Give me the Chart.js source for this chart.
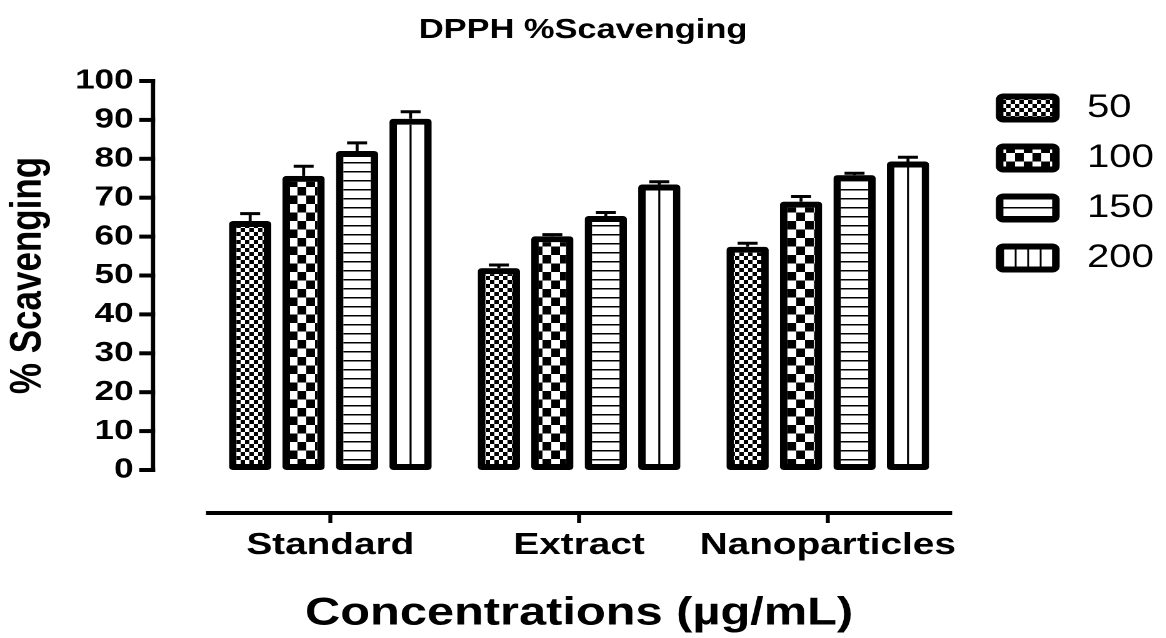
<!DOCTYPE html>
<html>
<head>
<meta charset="utf-8">
<title>DPPH %Scavenging</title>
<script src="https://cdn.jsdelivr.net/npm/chart.js@4.4.1/dist/chart.umd.min.js"></script>
<style>
  html, body { margin: 0; padding: 0; background: #fff; overflow: hidden; }
  /* the original figure is stretched sideways, so the whole canvas is too */
  #wrap { width: 933px; height: 638px; transform: scaleX(1.25); transform-origin: 0 0; }
</style>
</head>
<body>
<div id="wrap"><canvas id="chart" width="933" height="638"></canvas></div>
<script>
const groups = ["Standard", "Extract", "Nanoparticles"];
const concentrations = ["50", "100", "150", "200"];

// mean % scavenging per group, one array per concentration
const values50 = [64.0, 51.9, 57.4];
const values100 = [75.6, 60.1, 69.0];
const values150 = [82.0, 65.3, 75.8];
const values200 = [90.3, 73.4, 79.3];

// error bar (SD) per group
const errors50 = [1.9, 0.8, 0.9];
const errors100 = [2.5, 0.4, 1.3];
const errors150 = [2.1, 0.9, 0.5];
const errors200 = [1.8, 0.7, 1.1];

const yTicks = [0, 10, 20, 30, 40, 50, 60, 70, 80, 90, 100];

const seriesValues = [values50, values100, values150, values200];
const seriesErrors = [errors50, errors100, errors150, errors200];

// pattern tiles are drawn at 2x and scaled back down
function makePattern(w, h, drawTile, dx) {
  const c = document.createElement("canvas");
  c.width = w;
  c.height = h;
  const g = c.getContext("2d");
  g.fillStyle = "#fff";
  g.fillRect(0, 0, w, h);
  g.fillStyle = "#000";
  drawTile(g, w, h);
  const p = g.createPattern(c, "repeat");
  p.setTransform(new DOMMatrix([0.5, 0, 0, 0.5, dx || 0, 0]));
  return p;
}

const fineChecker = makePattern(14, 16, g => {
  g.fillRect(0, 0, 7, 8);
  g.fillRect(7, 8, 7, 8);
});
const bigChecker = makePattern(28, 34, g => {
  g.fillRect(0, 0, 14, 17);
  g.fillRect(14, 17, 14, 17);
});
const hStripes = makePattern(4, 18, g => {
  g.fillRect(0, 0, 4, 3);
});
// legend swatch for 200: four cells
const vStripes = makePattern(20, 4, g => {
  g.fillRect(0, 0, 3, 4);
}, 1.75);
const fills = [fineChecker, bigChecker, hStripes, "#fff"];

const datasets = concentrations.map((c, i) => ({
  label: " " + c,
  data: seriesValues[i],
  backgroundColor: fills[i],
  borderColor: "#000",
  borderWidth: 6,
  borderSkipped: false,
  borderRadius: 3,
  categoryPercentage: 0.86,
  barPercentage: 0.79
}));

// error bars, plus the single centre line of the 200 bars
const errorBars = {
  id: "errorBars",
  afterDatasetsDraw(chart) {
    const ctx = chart.ctx;
    const y = chart.scales.y;
    ctx.save();
    ctx.strokeStyle = "#000";
    chart.data.datasets.forEach((ds, di) => {
      const meta = chart.getDatasetMeta(di);
      meta.data.forEach((bar, i) => {
        const top = y.getPixelForValue(ds.data[i] + seriesErrors[di][i]);
        ctx.lineWidth = 2.4;
        ctx.beginPath();
        ctx.moveTo(bar.x, bar.y);
        ctx.lineTo(bar.x, top);
        ctx.stroke();
        ctx.lineWidth = 3;
        ctx.beginPath();
        ctx.moveTo(bar.x - 8, top);
        ctx.lineTo(bar.x + 8, top);
        ctx.stroke();
        if (di === 3) {
          ctx.lineWidth = 1.6;
          ctx.beginPath();
          ctx.moveTo(bar.x, bar.y + 6);
          ctx.lineTo(bar.x, bar.base - 6);
          ctx.stroke();
        }
      });
    });
    ctx.restore();
  }
};

// detached axes like the Prism original
const axisLines = {
  id: "axisLines",
  afterDraw(chart) {
    const { ctx, chartArea, scales } = chart;
    const x = scales.x, y = scales.y;
    const axisX = chartArea.left - 42.4;
    const axisY = chartArea.bottom + 43;
    ctx.save();
    ctx.strokeStyle = "#000";
    ctx.lineWidth = 3.4;
    ctx.beginPath();
    ctx.moveTo(axisX, y.getPixelForValue(100) - 2);
    ctx.lineTo(axisX, y.getPixelForValue(0) + 2);
    ctx.stroke();
    ctx.lineWidth = 4;
    yTicks.forEach(v => {
      const py = y.getPixelForValue(v);
      ctx.beginPath();
      ctx.moveTo(axisX - 11, py);
      ctx.lineTo(axisX + 1.7, py);
      ctx.stroke();
    });
    ctx.beginPath();
    ctx.moveTo(chartArea.left, axisY);
    ctx.lineTo(chartArea.right, axisY);
    ctx.stroke();
    ctx.lineWidth = 3.2;
    groups.forEach((g, i) => {
      const px = x.getPixelForValue(i);
      ctx.beginPath();
      ctx.moveTo(px, axisY);
      ctx.lineTo(px, axisY + 10);
      ctx.stroke();
    });
    ctx.restore();
  }
};

Chart.defaults.font.family = "'Liberation Sans', Arial, sans-serif";
Chart.defaults.color = "#000";

new Chart(document.getElementById("chart"), {
  type: "bar",
  data: { labels: groups, datasets: datasets },
  plugins: [errorBars, axisLines],
  options: {
    responsive: false,
    animation: false,
    devicePixelRatio: 2,
    layout: { padding: 0 },
    plugins: {
      title: {
        display: true,
        text: "DPPH %Scavenging",
        font: { size: 27.5, weight: "bold" },
        padding: { top: 14, bottom: 34 }
      },
      legend: {
        position: "right",
        align: "start",
        // empty title only pushes the entries down
        title: { display: true, text: " ", font: { size: 10 }, padding: { top: 62, bottom: 0 } },
        labels: {
          boxWidth: 45,
          boxHeight: 23,
          padding: 18,
          font: { size: 32 },
          useBorderRadius: true,
          borderRadius: 3,
          generateLabels(chart) {
            const items = Chart.defaults.plugins.legend.labels.generateLabels(chart);
            items[3].fillStyle = vStripes;
            return items;
          }
        }
      },
      tooltip: { enabled: false }
    },
    scales: {
      x: {
        afterFit: s => { s.height = 168; },
        grid: { display: false, drawTicks: false },
        border: { display: false },
        ticks: { padding: 57, autoSkip: false, maxRotation: 0, font: { size: 31, weight: "bold" } },
        title: {
          display: true,
          text: "Concentrations (µg/mL)",
          font: { size: 39, weight: "bold" },
          padding: { top: 0, bottom: 1 }
        }
      },
      y: {
        min: 0,
        max: 100,
        afterFit: s => { s.width = 164.8; },
        afterBuildTicks: s => { s.ticks = yTicks.map(v => ({ value: v })); },
        grid: { display: false, drawTicks: false },
        border: { display: false },
        ticks: { padding: 58, font: { size: 28, weight: "bold" } },
        title: {
          display: true,
          text: "% Scavenging",
          font: { size: 35, weight: "bold" },
          padding: { top: 2, bottom: 0 }
        }
      },
      gap: {
        position: "right",
        display: true,
        grid: { display: false, drawTicks: false },
        border: { display: false },
        ticks: { display: false },
        afterFit: s => { s.width = 20; }
      }
    }
  }
});
</script>
</body>
</html>
